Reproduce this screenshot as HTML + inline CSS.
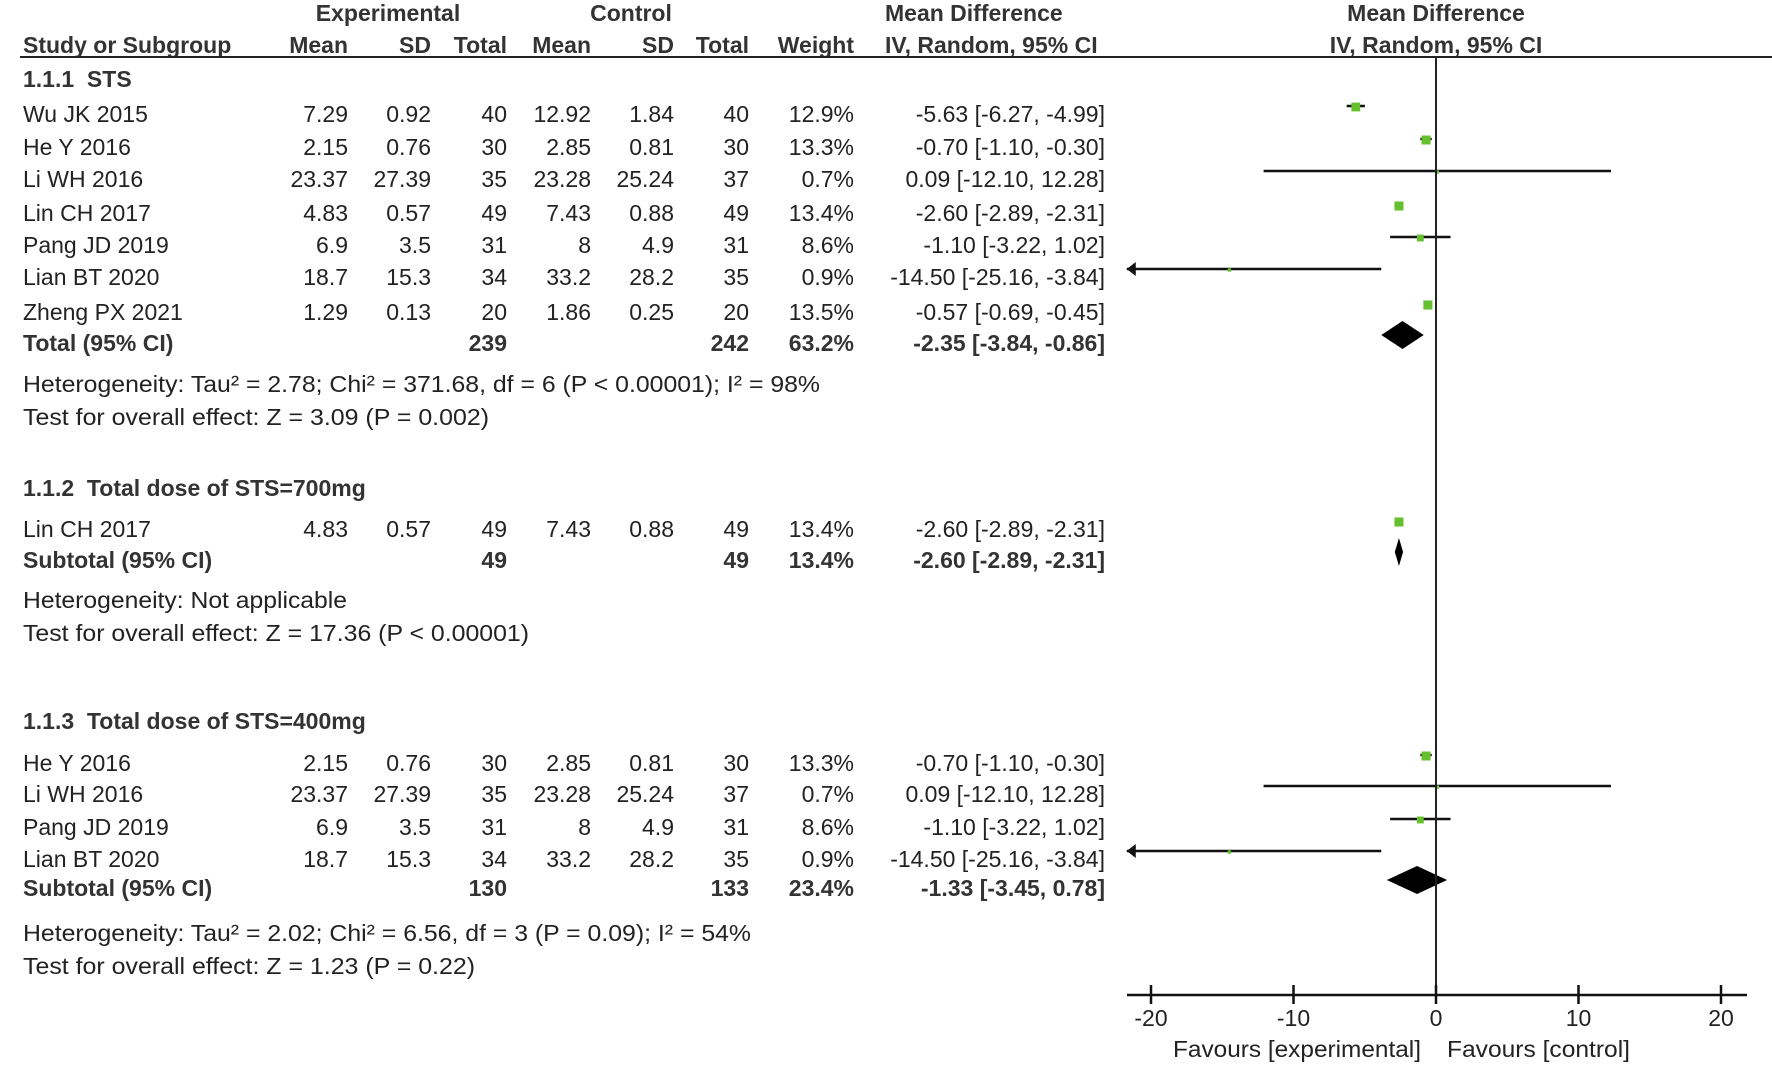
<!DOCTYPE html>
<html><head><meta charset="utf-8"><style>
html,body{margin:0;padding:0;background:#fff;}
svg{display:block;}
text{font-family:"Liberation Sans",Arial,sans-serif;font-size:23px;fill:#222;}
.b{font-weight:bold;fill:#333;}
</style></head><body>
<svg id="chart" width="1772" height="1065" viewBox="0 0 1772 1065" xmlns="http://www.w3.org/2000/svg">
<g id="tbl"></g>
<g id="plot"></g>
</svg>
<script>
// ---- data ----
const studyNames = ["Wu JK 2015","He Y 2016","Li WH 2016","Lin CH 2017","Pang JD 2019","Lian BT 2020","Zheng PX 2021","Lin CH 2017","He Y 2016","Li WH 2016","Pang JD 2019","Lian BT 2020"];
const expMean = ["7.29","2.15","23.37","4.83","6.9","18.7","1.29","4.83","2.15","23.37","6.9","18.7"];
const expSD = ["0.92","0.76","27.39","0.57","3.5","15.3","0.13","0.57","0.76","27.39","3.5","15.3"];
const expN = ["40","30","35","49","31","34","20","49","30","35","31","34"];
const ctlMean = ["12.92","2.85","23.28","7.43","8","33.2","1.86","7.43","2.85","23.28","8","33.2"];
const ctlSD = ["1.84","0.81","25.24","0.88","4.9","28.2","0.25","0.88","0.81","25.24","4.9","28.2"];
const ctlN = ["40","30","37","49","31","35","20","49","30","37","31","35"];
const weights = [12.9,13.3,0.7,13.4,8.6,0.9,13.5,13.4,13.3,0.7,8.6,0.9];
const md = [-5.63,-0.70,0.09,-2.60,-1.10,-14.50,-0.57,-2.60,-0.70,0.09,-1.10,-14.50];
const lo = [-6.27,-1.10,-12.10,-2.89,-3.22,-25.16,-0.69,-2.89,-1.10,-12.10,-3.22,-25.16];
const hi = [-4.99,-0.30,12.28,-2.31,1.02,-3.84,-0.45,-2.31,-0.30,12.28,1.02,-3.84];
const studyY = [106,139,171,205,237,269,304,521,755,786,819,851];
const totalLabels = ["Total (95% CI)","Subtotal (95% CI)","Subtotal (95% CI)"];
const totalExpN = ["239","49","130"];
const totalCtlN = ["242","49","133"];
const totalW = ["63.2%","13.4%","23.4%"];
const totalMd = [-2.35,-2.60,-1.33];
const totalLo = [-3.84,-2.89,-3.45];
const totalHi = [-0.86,-2.31,0.78];
const totalY = [335,552,880];
const xTicks = [-20,-10,0,10,20];

const NS="http://www.w3.org/2000/svg";
const tbl=document.getElementById('tbl'), plot=document.getElementById('plot');
const AXY=995;
function x(v){return 1436+v*14.25;}
function el(tag,attrs,parent){const e=document.createElementNS(NS,tag);for(const k in attrs)e.setAttribute(k,attrs[k]);parent.appendChild(e);return e;}
function txt(s,xx,yy,anchor,cls,parent,len){const e=el('text',{x:xx,y:yy,'text-anchor':anchor},parent);if(cls)e.setAttribute('class',cls);if(len){e.setAttribute('textLength',len);e.setAttribute('lengthAdjust','spacingAndGlyphs');}e.textContent=s;return e;}
function f2(v){return (v<0?"-":"")+Math.abs(v).toFixed(2);}
function ci(i,m,l,h){return f2(m)+" ["+f2(l)+", "+f2(h)+"]";}
const colR=[348,431,507,591,674,749,854,1105];

// header
let t;
t=txt("Experimental",388,21,"middle","b",tbl);
t=txt("Control",631,21,"middle","b",tbl);
t=txt("Mean Difference",885,21,"start","b",tbl);
t=txt("Mean Difference",1436,21,"middle","b",tbl);
const h2=["Mean","SD","Total","Mean","SD","Total","Weight"];
t=txt("Study or Subgroup",23,53,"start","b",tbl);
h2.forEach((s,i)=>{const e=txt(s,colR[i],53,"end","b",tbl);});
t=txt("IV, Random, 95% CI",885,53,"start","b",tbl);
t=txt("IV, Random, 95% CI",1436,53,"middle","b",tbl);
let ln=el('line',{x1:20,y1:57,x2:1772,y2:57,stroke:'#222','stroke-width':2},tbl);


// subgroup headings & footers
const heads=[["1.1.1\u00a0\u00a0STS",87],["1.1.2\u00a0\u00a0Total dose of STS=700mg",496],["1.1.3\u00a0\u00a0Total dose of STS=400mg",729]];
heads.forEach(h=>{const e=txt(h[0],23,h[1],"start","b",tbl);});
const foots=[["Heterogeneity: Tau² = 2.78; Chi² = 371.68, df = 6 (P < 0.00001); I² = 98%",392,797],["Test for overall effect: Z = 3.09 (P = 0.002)",425,466],["Heterogeneity: Not applicable",608,324],["Test for overall effect: Z = 17.36 (P < 0.00001)",641,506],["Heterogeneity: Tau² = 2.02; Chi² = 6.56, df = 3 (P = 0.09); I² = 54%",941,728],["Test for overall effect: Z = 1.23 (P = 0.22)",974,452]];
foots.forEach(f=>{const e=txt(f[0],23,f[1],"start","",tbl,f[2]);});

// study rows
studyNames.forEach((n,i)=>{
  const ty=studyY[i]+16;
  const vals=[expMean[i],expSD[i],expN[i],ctlMean[i],ctlSD[i],ctlN[i],weights[i].toFixed(1)+"%",ci(i,md[i],lo[i],hi[i])];
  let e=txt(n,23,ty,"start","",tbl);
  vals.forEach((v,j)=>{const c=txt(v,colR[j],ty,"end","",tbl);});
  const minV=-21.7,maxV=21.8;
  const l=Math.max(lo[i],minV), h=Math.min(hi[i],maxV);
  const cl=el('line',{x1:x(l),y1:studyY[i],x2:x(h),y2:studyY[i],stroke:'#111','stroke-width':2.5},plot);
  
  if(lo[i]<minV){const a=el('polygon',{points:`${x(minV)},${studyY[i]} ${x(minV)+9},${studyY[i]-7} ${x(minV)+9},${studyY[i]+7}`,fill:'#111'},plot);
    }
  const s=3+weights[i]*0.45;
  const r=el('rect',{x:x(md[i])-s/2,y:studyY[i]+1-s/2,width:s,height:s,fill:'#66c02e'},plot);
  
});

// totals
totalLabels.forEach((n,i)=>{
  const ty=totalY[i]+16;
  let e=txt(n,23,ty,"start","b",tbl);
  const vals=[[totalExpN[i],2],[totalCtlN[i],5],[totalW[i],6],[ci(i,totalMd[i],totalLo[i],totalHi[i]),7]];
  vals.forEach(v=>{const c=txt(v[0],colR[v[1]],ty,"end","b",tbl);});
  const y=totalY[i];
  const d=el('polygon',{points:`${x(totalLo[i])},${y} ${x(totalMd[i])},${y-14} ${x(totalHi[i])},${y} ${x(totalMd[i])},${y+14}`,fill:'#000'},plot);
  
});

// axes
let z=el('line',{x1:x(0),y1:57,x2:x(0),y2:AXY,stroke:'#222','stroke-width':2},plot);

let ax=el('line',{x1:1127,y1:AXY,x2:1747,y2:AXY,stroke:'#111','stroke-width':2.5},plot);

xTicks.forEach(v=>{
  const tk=el('line',{x1:x(v),y1:AXY-10,x2:x(v),y2:AXY+9,stroke:'#111','stroke-width':2.5},plot);
  
  const tl=txt(String(v),x(v),AXY+31,"middle","",plot);
  
});
t=txt("Favours [experimental]",1421,1057,"end","",plot,248);
t=txt("Favours [control]",1447,1057,"start","",plot,183);
</script>
</body></html>
